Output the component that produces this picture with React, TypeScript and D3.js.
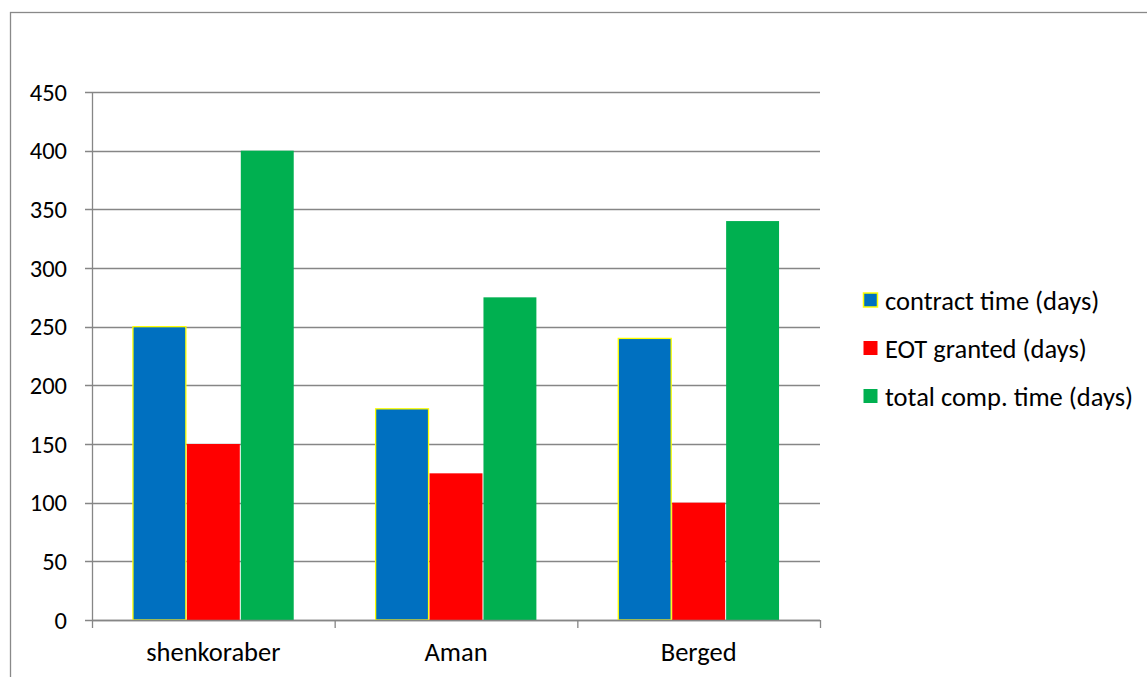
import React, { useEffect, useRef } from 'react';
import * as d3 from 'd3';

const categories = ['shenkoraber', 'Aman', 'Berged'];
const seriesNames = ['contract time (days)', 'EOT granted (days)', 'total comp. time (days)'];
const contractTime = [250, 180, 240];
const eotGranted = [150, 125, 100];
const totalCompTime = [400, 275, 340];
const yTicks = [0, 50, 100, 150, 200, 250, 300, 350, 400, 450];

const colors = ['#0070C0', '#FF0000', '#00B050'];
const strokes = ['#FFFF00', 'none', 'none'];

const W = 1147, H = 677;

function App() {
	const ref = useRef<SVGSVGElement>(null);

	useEffect(() => {
		const svg = d3.select(ref.current);
		svg.selectAll('*').remove();
		const font = 'Carlito, Calibri, "Liberation Sans", Arial, sans-serif';
		const fs = 24.5, fsText = 26.5;
		const seriesValues = [contractTime, eotGranted, totalCompTime];

		// outer frame
		svg.append('rect').attr('x', 10.5).attr('y', 12.5).attr('width', 1160).attr('height', 700)
			.attr('fill', 'white').attr('stroke', '#898989').attr('stroke-width', 1.3);

		const left = 92, right = 820, top = 92, bottom = 620;
		const x = d3.scaleBand().domain(categories).range([left, right]).paddingInner(0).paddingOuter(0);
		const y = d3.scaleLinear().domain([0, 450]).range([bottom, top]);

		// gridlines
		svg.append('g').selectAll('line').data(yTicks).join('line')
			.attr('x1', left - 7).attr('x2', right)
			.attr('y1', d => Math.round(y(d)) + 0.5).attr('y2', d => Math.round(y(d)) + 0.5)
			.attr('stroke', '#868686').attr('stroke-width', 1.3);

		// y labels
		svg.append('g').selectAll('text').data(yTicks).join('text')
			.attr('x', 67).attr('y', d => y(d)).attr('dy', '0.35em')
			.attr('text-anchor', 'end').attr('font-family', font).attr('font-size', fs)
			.attr('fill', '#000').text(d => d);

		// y axis
		svg.append('line').attr('x1', left + 0.5).attr('x2', left + 0.5).attr('y1', top).attr('y2', bottom)
			.attr('stroke', '#868686').attr('stroke-width', 1.3);

		// bars
		const bw = x.bandwidth() / 4.5;
		const inner = d3.scaleBand().domain(d3.range(3).map(String)).range([0, bw * 3]);
		seriesValues.forEach((vals, si) => {
			svg.append('g').selectAll('rect').data(vals).join('rect')
				.attr('x', (d, i) => (x(categories[i]) as number) + bw * 0.75 + (inner(String(si)) as number) + 0.5)
				.attr('width', bw - 1)
				.attr('y', d => y(d))
				.attr('height', d => bottom - y(d))
				.attr('fill', colors[si])
				.attr('stroke', strokes[si]).attr('stroke-width', 1.3);
		});

		// x axis
		svg.append('line').attr('x1', left).attr('x2', right).attr('y1', bottom + 0.5).attr('y2', bottom + 0.5)
			.attr('stroke', '#868686').attr('stroke-width', 1.3);
		const bounds = [...categories.map(c => x(c) as number), right];
		svg.append('g').selectAll('line').data(bounds).join('line')
			.attr('x1', d => d + 0.5).attr('x2', d => d + 0.5).attr('y1', bottom).attr('y2', bottom + 8)
			.attr('stroke', '#868686').attr('stroke-width', 1.3);
		svg.append('g').selectAll('text').data(categories).join('text')
			.attr('x', d => (x(d) as number) + x.bandwidth() / 2).attr('y', 661)
			.attr('text-anchor', 'middle').attr('font-family', font).attr('font-size', fsText)
			.attr('fill', '#000').text(d => d);

		// legend
		const lg = svg.append('g').selectAll('g').data(seriesNames).join('g')
			.attr('transform', (d, i) => `translate(863, ${300 + i * 48})`);
		lg.append('rect').attr('x', 0.5).attr('y', -7).attr('width', 14).attr('height', 14)
			.attr('fill', (d, i) => colors[i])
			.attr('stroke', (d, i) => strokes[i]).attr('stroke-width', 1.5);
		lg.append('text').attr('x', 22).attr('y', 1).attr('dy', '0.35em')
			.attr('font-family', font).attr('font-size', fsText).attr('fill', '#000')
			.text(d => d);
	}, []);

	return (
		<svg ref={ref} width={W} height={H} style={{ position: 'absolute', left: 0, top: 0, background: 'white' }} />
	);
}

export default App;
